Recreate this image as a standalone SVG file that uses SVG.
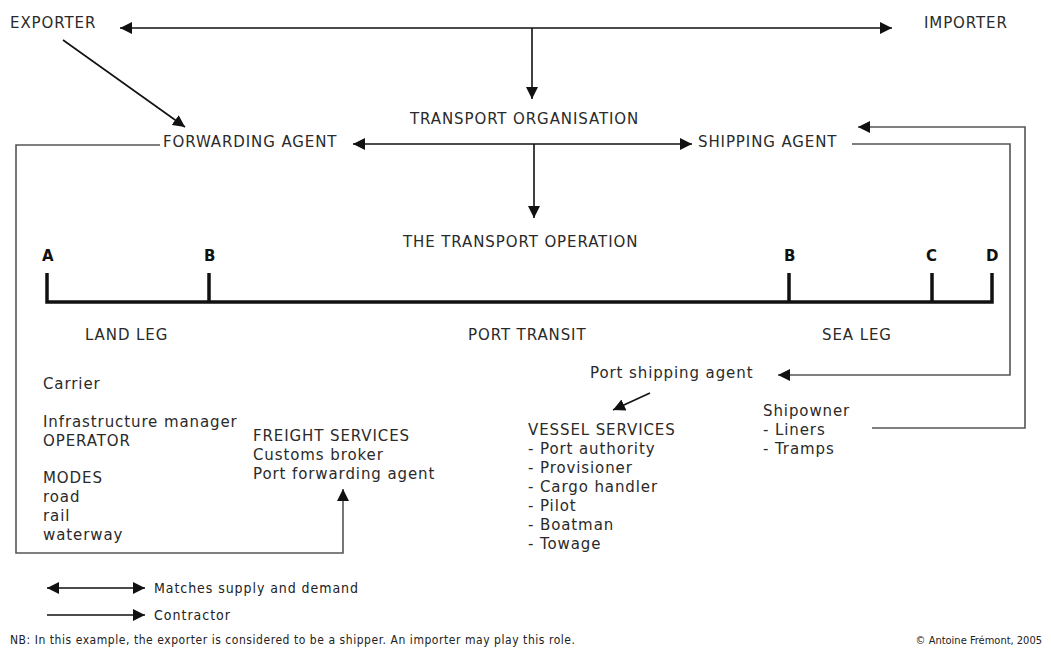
<svg xmlns="http://www.w3.org/2000/svg" width="1051" height="652" viewBox="0 0 1051 652">
<style>
.t{font-family:"DejaVu Sans","Open Sans",sans-serif;font-size:15px;letter-spacing:0.9px;fill:#2a2a2a}
.b{font-family:"DejaVu Sans","Open Sans",sans-serif;font-size:15px;font-weight:bold;fill:#111}
.c{font-family:"DejaVu Sans Condensed","Liberation Sans Narrow","Liberation Sans",sans-serif;fill:#222}
.ln{fill:none;stroke:#111;stroke-width:1.6}
.fr{fill:none;stroke:#555;stroke-width:1.6}
.tl{fill:none;stroke:#111;stroke-width:3.5}
</style>
<defs>
<marker id="ahL" viewBox="0 0 10 10" refX="10" refY="5" markerWidth="12" markerHeight="12" markerUnits="userSpaceOnUse" orient="auto-start-reverse">
<path d="M0,0 L10,5 L0,10 z" fill="#111"/>
</marker>
</defs>
<rect width="1051" height="652" fill="#fff"/>

<g id="connectors">
<path class="ln" d="M120,28 H892" marker-start="url(#ahL)" marker-end="url(#ahL)"/>
<path class="ln" d="M532,28 V99" marker-end="url(#ahL)"/>
<path class="ln" d="M63,40 L185,127" marker-end="url(#ahL)"/>
<path class="ln" d="M353,144 H692" marker-start="url(#ahL)" marker-end="url(#ahL)"/>
<path class="ln" d="M534,144 V218" marker-end="url(#ahL)"/>
<path class="fr" d="M160,145 H16 V553 H343 V489" marker-end="url(#ahL)"/>
<path class="fr" d="M852,144 H1010 V375 H778" marker-end="url(#ahL)"/>
<path class="fr" d="M872,428 H1025 V127 H858" marker-end="url(#ahL)"/>
<path class="ln" d="M650,393 L613,410" marker-end="url(#ahL)"/>
</g>

<g id="exporter"><text class="t" x="10" y="28">EXPORTER</text></g>
<g id="importer"><text class="t" x="924" y="28">IMPORTER</text></g>
<g id="transport-organisation"><text class="t" x="410" y="124">TRANSPORT ORGANISATION</text></g>
<g id="forwarding-agent"><text class="t" x="163" y="147">FORWARDING AGENT</text></g>
<g id="shipping-agent"><text class="t" x="698" y="147">SHIPPING AGENT</text></g>
<g id="transport-operation"><text class="t" x="403" y="247">THE TRANSPORT OPERATION</text></g>

<g id="timeline">
<path class="tl" d="M47,273 V302 H992 V273 M209,273 V302 M789,273 V302 M932,273 V302"/>
<text class="b" x="42" y="261">A</text>
<text class="b" x="204" y="261">B</text>
<text class="b" x="784" y="261">B</text>
<text class="b" x="926" y="261">C</text>
<text class="b" x="986" y="261">D</text>
<text class="t" x="85" y="340">LAND LEG</text>
<text class="t" x="468" y="340">PORT TRANSIT</text>
<text class="t" x="822" y="340">SEA LEG</text>
</g>

<g id="land-actors">
<text class="t" x="43" y="389">Carrier</text>
<text class="t" x="43" y="427">Infrastructure manager</text>
<text class="t" x="43" y="446">OPERATOR</text>
<text class="t" x="43" y="483">MODES</text>
<text class="t" x="43" y="502">road</text>
<text class="t" x="43" y="521">rail</text>
<text class="t" x="43" y="540">waterway</text>
</g>

<g id="freight-services">
<text class="t" x="253" y="441">FREIGHT SERVICES</text>
<text class="t" x="253" y="460">Customs broker</text>
<text class="t" x="253" y="479">Port forwarding agent</text>
</g>

<g id="port-shipping-agent"><text class="t" x="590" y="378">Port shipping agent</text></g>

<g id="vessel-services">
<text class="t" x="528" y="435">VESSEL SERVICES</text>
<text class="t" x="528" y="454">- Port authority</text>
<text class="t" x="528" y="473">- Provisioner</text>
<text class="t" x="528" y="492">- Cargo handler</text>
<text class="t" x="528" y="511">- Pilot</text>
<text class="t" x="528" y="530">- Boatman</text>
<text class="t" x="528" y="549">- Towage</text>
</g>

<g id="shipowner">
<text class="t" x="763" y="416">Shipowner</text>
<text class="t" x="763" y="435">- Liners</text>
<text class="t" x="763" y="454">- Tramps</text>
</g>

<g id="legend">
<path class="ln" d="M47,588 H145" marker-start="url(#ahL)" marker-end="url(#ahL)"/>
<path class="ln" d="M47,615 H145" marker-end="url(#ahL)"/>
<text class="c" x="154" y="593" font-size="14" textLength="204">Matches supply and demand</text>
<text class="c" x="154" y="620" font-size="14" textLength="76">Contractor</text>
<text class="c" x="10" y="644" font-size="12" textLength="565">NB: In this example, the exporter is considered to be a shipper. An importer may play this role.</text>
<text class="c" x="1042" y="644" font-size="11" text-anchor="end">© Antoine Frémont, 2005</text>
</g>
</svg>
